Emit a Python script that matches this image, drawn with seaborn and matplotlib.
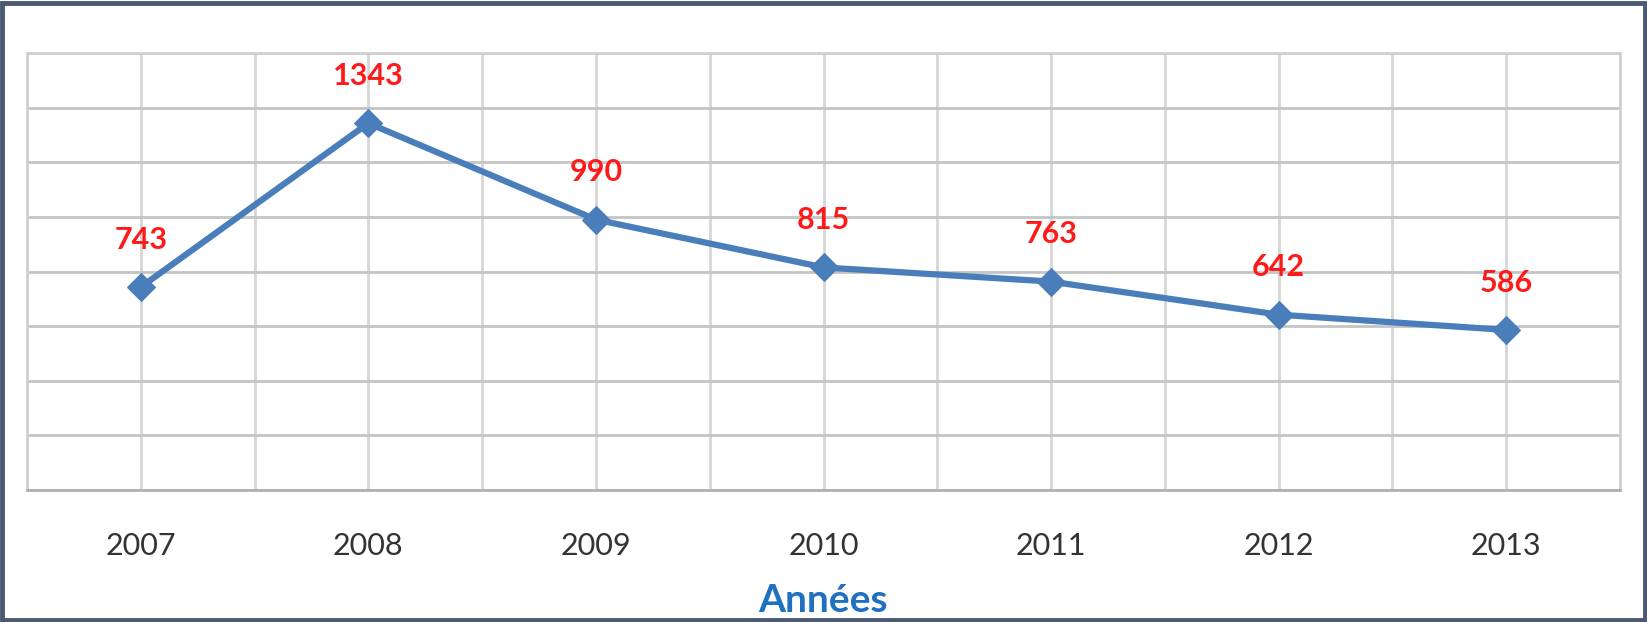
import numpy as np
import pandas as pd
import matplotlib
matplotlib.use('Agg')
import matplotlib.pyplot as plt
from matplotlib.patches import Rectangle
import seaborn as sns

# ==============================================
# data
annees = ['2007', '2008', '2009', '2010', '2011', '2012', '2013']
valeurs = [743, 1343, 990, 815, 763, 642, 586]
y_ticks = list(range(0, 1601, 200))

df = pd.DataFrame({'annee': annees, 'valeur': valeurs})

# ==============================================
sns.set_style('white')
plt.rcParams['font.family'] = ['Lato', 'DejaVu Sans']

fig = plt.figure(figsize=(16.47, 6.22), dpi=100)
ax = fig.add_axes([27/1647, 132/622, 1593/1647, 437/622])

sns.lineplot(data=df, x='annee', y='valeur', ax=ax, color='#4a7ebb', linewidth=4.5,
             marker='D', markersize=14, markeredgecolor='#4a7ebb', zorder=5)

for i, v in enumerate(valeurs):
    ax.annotate(str(v), (i, v), xytext=(0, 34), textcoords='offset points',
                ha='center', va='center', color='#ff1a1a', fontsize=22,
                fontweight='bold', zorder=6)

ax.set_xlim(-0.5, len(annees) - 0.5)
ax.set_ylim(y_ticks[0], y_ticks[-1])
ax.set_yticks(y_ticks)
ax.set_yticklabels([])
ax.tick_params(axis='y', length=0)

ax.set_xticks(range(len(annees)))
ax.set_xticklabels(annees)
ax.set_xticks(np.arange(-0.5, len(annees)), minor=True)
ax.tick_params(axis='x', which='major', length=0, pad=30, labelsize=22, labelcolor='#333333')
ax.tick_params(axis='x', which='minor', length=10, width=2, color='#a8a8a8', direction='out')

ax.grid(axis='y', color='#c4c4c4', linewidth=2)
ax.grid(axis='x', which='both', color='#d6d6d6', linewidth=2)
ax.set_axisbelow(True)

for s in ['top', 'left', 'right']:
    ax.spines[s].set_color('#d0d0d0')
    ax.spines[s].set_linewidth(2)
ax.spines['bottom'].set_color('#b0b0b0')
ax.spines['bottom'].set_linewidth(2)

ax.set_xlabel('')
ax.set_ylabel('')

fig.text(823/1647, 1 - 583/622, 'Années', ha='center', va='top', color='#1f70c1',
         fontsize=28, fontweight='bold')

# frame around the picture
fig.patches.append(Rectangle((2/1647, 2/622), 1 - 4/1647, 1 - 5/622, transform=fig.transFigure,
                             facecolor='none', edgecolor='#4b5a72', linewidth=3.5, zorder=10))

fig.savefig('out.png', dpi=100)
